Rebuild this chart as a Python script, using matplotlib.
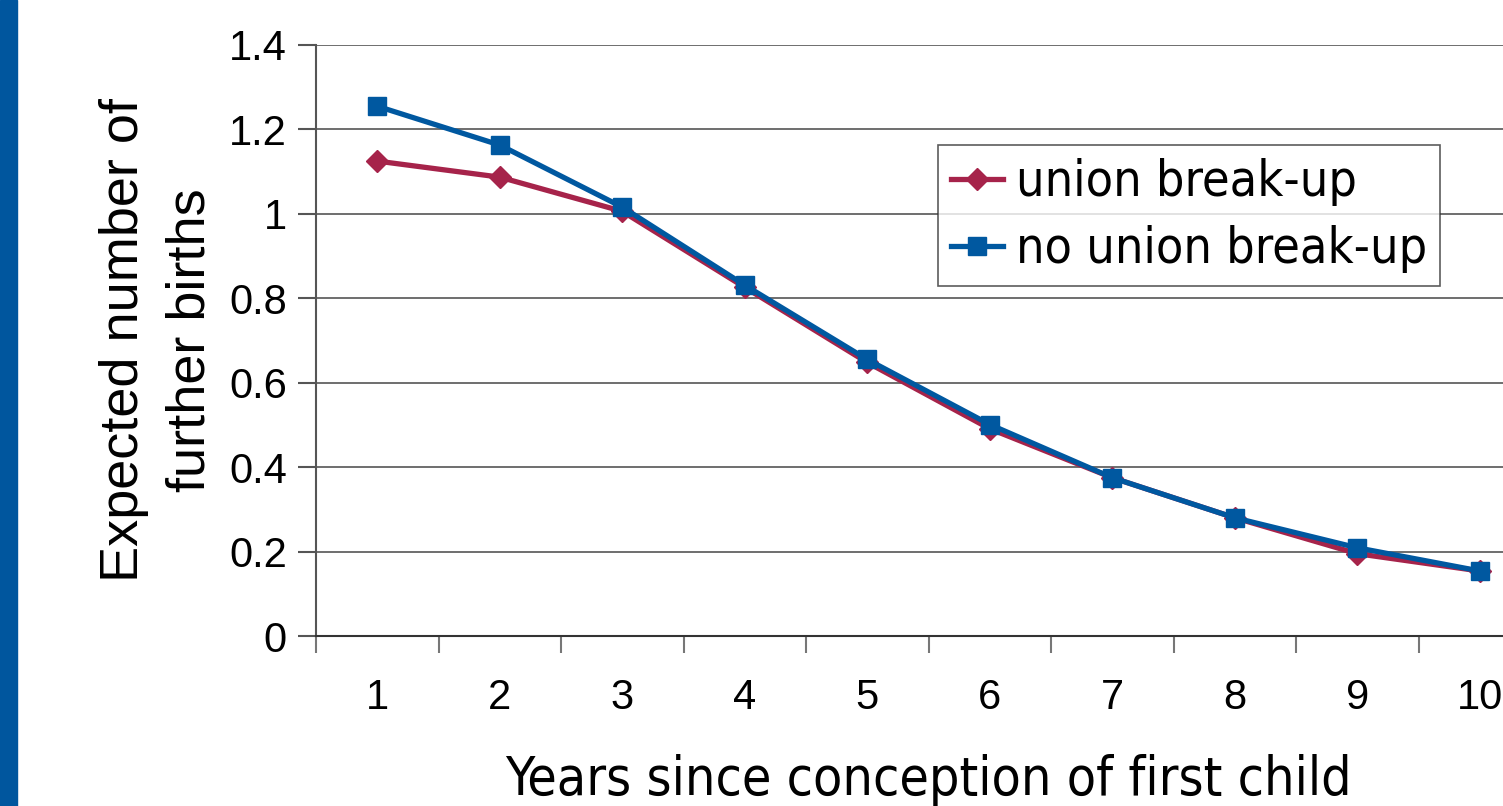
import matplotlib
matplotlib.use("Agg")
import matplotlib.pyplot as plt
from matplotlib import font_manager as fm
from matplotlib.patches import Rectangle

years = [1, 2, 3, 4, 5, 6, 7, 8, 9, 10]
union_breakup = [1.125, 1.087, 1.006, 0.826, 0.648, 0.491, 0.375, 0.280, 0.195, 0.154]
no_union_breakup = [1.255, 1.163, 1.016, 0.831, 0.655, 0.501, 0.375, 0.280, 0.209, 0.154]
series_labels = ["union break-up", "no union break-up"]
y_ticks = [0, 0.2, 0.4, 0.6, 0.8, 1, 1.2, 1.4]
y_tick_labels = ["0", "0.2", "0.4", "0.6", "0.8", "1", "1.2", "1.4"]

RED = "#A6234A"
BLUE = "#0058A0"
GRID = "#555555"

# the slide uses a Tahoma-like face; a condensed DejaVu is closest if present
cond = fm.FontProperties(family="DejaVu Sans", stretch="condensed")
if "Condensed" in fm.findfont(cond):
    tahoma_like = dict(family="DejaVu Sans", stretch="condensed")
    leg_size, xlab_size = 36, 38.5
else:
    tahoma_like = dict(family="DejaVu Sans")
    leg_size, xlab_size = 32.3, 35
leg_px = leg_size * 100 / 72

W, H = 1503, 806
fig = plt.figure(figsize=(W / 100, H / 100), dpi=100)

# blue strip on the left edge of the slide
fig.patches.append(Rectangle((0, 0), 17 / W, 1, transform=fig.transFigure,
                             color="#00569E", zorder=0))

# axes deliberately run off the right edge, as in the source slide
left, bottom, top = 316 / W, 1 - 636 / H, 1 - 45 / H
width = 1225 / W
ax = fig.add_axes([left, bottom, width, top - bottom])

ax.plot(years, union_breakup, "-D", color=RED, lw=3.8, ms=11, mec=RED, label=series_labels[0], zorder=3)
ax.plot(years, no_union_breakup, "-s", color=BLUE, lw=3.8, ms=13, mec=BLUE, label=series_labels[1], zorder=4)

ax.set_xlim(0.5, 10.5)
ax.set_ylim(0, 1.4)
ax.set_yticks(y_ticks)
ax.set_yticklabels(y_tick_labels)
ax.yaxis.grid(True, color=GRID, lw=1.2)
ax.set_axisbelow(True)

# category labels centred, tick marks between categories
ax.set_xticks(years)
ax.set_xticklabels([str(y) for y in years])
ax.tick_params(axis="both", which="major", labelsize=30, labelfontfamily="Liberation Sans")
ax.tick_params(axis="x", which="major", length=0, pad=30)
ax.set_xticks([y + 0.5 for y in years[:-1]] + [0.5], minor=True)
ax.tick_params(axis="x", which="minor", length=12, width=1.5, color="#777777", direction="out")
ax.tick_params(axis="y", length=13, width=1.5, color=GRID, pad=8)

for s in ["top", "right"]:
    ax.spines[s].set_visible(False)
ax.spines["left"].set_color(GRID)
ax.spines["left"].set_linewidth(1.5)
ax.spines["bottom"].set_color("#333333")
ax.spines["bottom"].set_linewidth(1.5)

ax.set_ylabel("Expected number of\nfurther births", fontfamily="Liberation Sans",
              fontsize=39, linespacing=1.4, labelpad=10)
ax.set_xlabel("Years since conception of first child", fontsize=xlab_size, labelpad=26, **tahoma_like)

leg = ax.legend(loc="upper left", bbox_to_anchor=(938 / W, 1 - 145 / H), bbox_transform=fig.transFigure,
                prop=dict(size=leg_size, **tahoma_like), frameon=True, fancybox=False,
                handlelength=52 / leg_px, handletextpad=13 / leg_px,
                borderpad=13 / leg_px, labelspacing=0.38,
                borderaxespad=0)
leg.get_frame().set_edgecolor("#333333")
leg.get_frame().set_linewidth(1.2)

fig.savefig("out.png", dpi=100)
